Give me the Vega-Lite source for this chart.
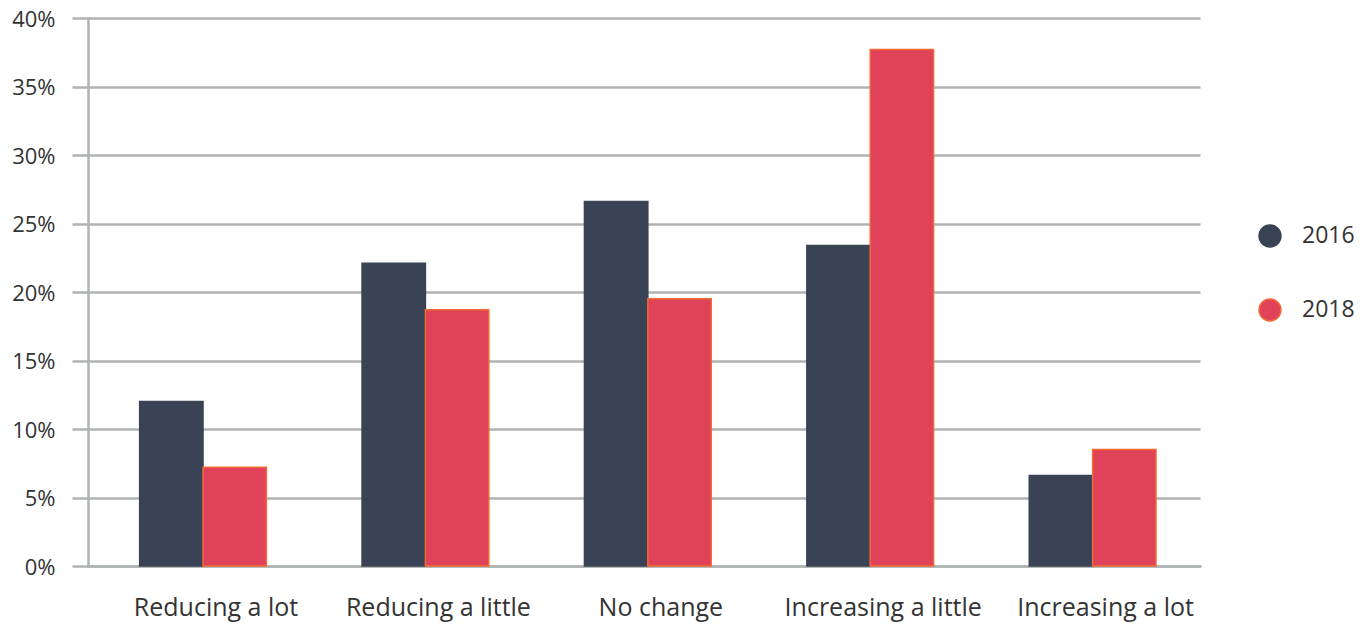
{
  "$schema": "https://vega.github.io/schema/vega-lite/v6.json",
  "width": 1112,
  "height": 548,
  "autosize": "none",
  "padding": {"left": 88, "top": 18, "right": 171, "bottom": 62},
  "background": "white",
  "data": {
    "values": [
      {"change": "Reducing a lot", "year": "2016", "share": 0.12},
      {"change": "Reducing a lot", "year": "2018", "share": 0.072},
      {"change": "Reducing a little", "year": "2016", "share": 0.221},
      {"change": "Reducing a little", "year": "2018", "share": 0.187},
      {"change": "No change", "year": "2016", "share": 0.266},
      {"change": "No change", "year": "2018", "share": 0.195},
      {"change": "Increasing a little", "year": "2016", "share": 0.234},
      {"change": "Increasing a little", "year": "2018", "share": 0.377},
      {"change": "Increasing a lot", "year": "2016", "share": 0.066},
      {"change": "Increasing a lot", "year": "2018", "share": 0.085}
    ]
  },
  "mark": {"type": "bar", "strokeWidth": 1.5},
  "encoding": {
    "x": {
      "field": "change",
      "type": "nominal",
      "sort": ["Reducing a lot", "Reducing a little", "No change", "Increasing a little", "Increasing a lot"],
      "scale": {"paddingInner": 0.43, "paddingOuter": 0.215, "align": 0.54},
      "axis": {
        "title": null,
        "labelAngle": 0,
        "labelFont": "Open Sans",
        "labelFontSize": 25,
        "labelColor": "#333333",
        "labelLimit": 0,
        "labelPadding": 29,
        "labelOffset": 13,
        "ticks": false,
        "domainColor": "#b0b3b3",
        "domainWidth": 2.5
      }
    },
    "xOffset": {"field": "year", "type": "nominal"},
    "y": {
      "field": "share",
      "type": "quantitative",
      "scale": {"domain": [0, 0.4], "nice": false},
      "axis": {
        "title": null,
        "format": ".0%",
        "values": [0, 0.05, 0.1, 0.15, 0.2, 0.25, 0.3, 0.35, 0.4],
        "labelFont": "Open Sans",
        "labelFontSize": 22,
        "labelColor": "#333333",
        "labelPadding": 17,
        "labelBaseline": "middle",
        "labelOffset": 1,
        "tickSize": 16,
        "tickColor": "#b0b3b3",
        "tickWidth": 2.5,
        "grid": true,
        "gridColor": "#b0b3b3",
        "gridWidth": 2.5,
        "domainColor": "#b0b3b3",
        "domainWidth": 2.5
      }
    },
    "fill": {
      "field": "year",
      "type": "nominal",
      "scale": {"domain": ["2016", "2018"], "range": ["#3a4355", "#df4259"]},
      "legend": {
        "title": null,
        "orient": "none",
        "legendX": 1170,
        "legendY": 206,
        "symbolType": "circle",
        "symbolSize": 480,
        "symbolStrokeWidth": 1.5,
        "rowPadding": 46,
        "labelOffset": 20,
        "labelFont": "Open Sans",
        "labelFontSize": 23,
        "labelColor": "#333333"
      }
    },
    "stroke": {
      "field": "year",
      "type": "nominal",
      "scale": {"domain": ["2016", "2018"], "range": ["#3a4355", "#f06a35"]}
    }
  },
  "config": {
    "view": {"stroke": null},
    "axis": {"domainCap": "square"}
  }
}
